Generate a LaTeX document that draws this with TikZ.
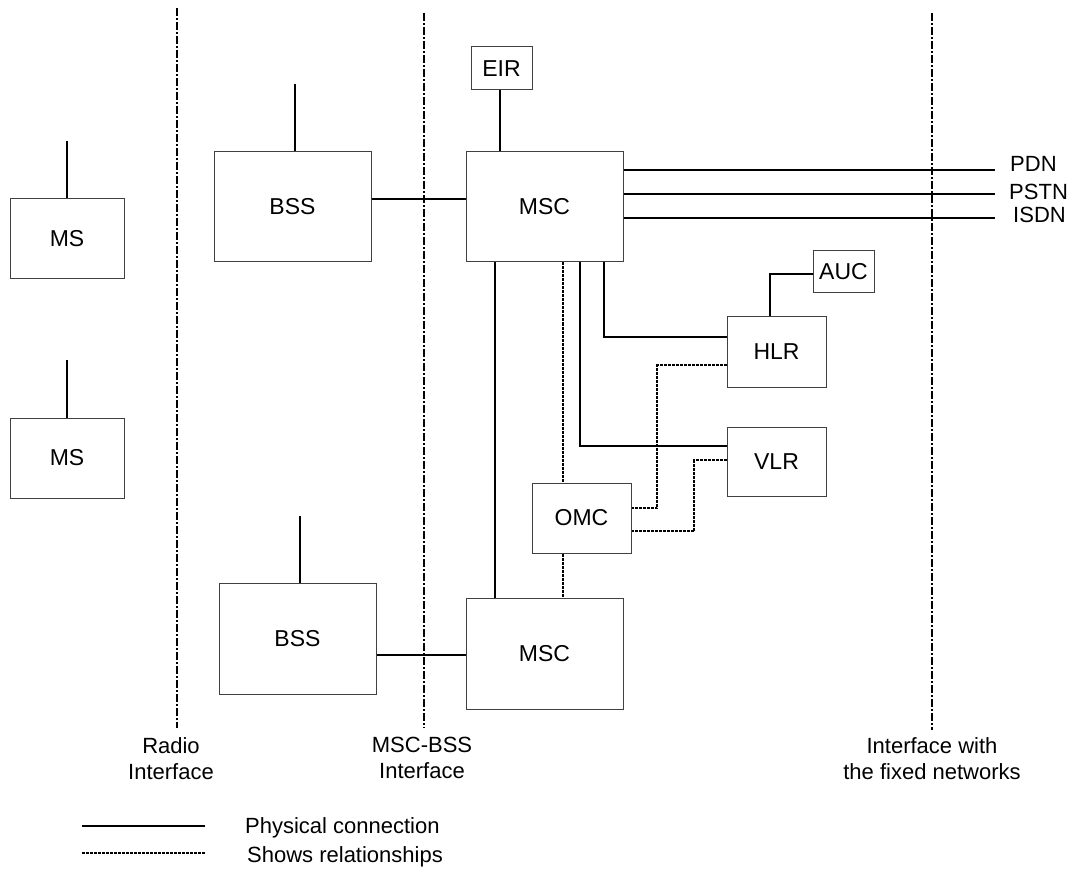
\documentclass[tikz,border=0pt]{standalone}
\usepackage{fontspec}
\setmainfont{Liberation Sans}
\begin{document}
\begin{tikzpicture}[x=1pt,y=-1pt,
  box/.style={draw=black!75,line width=1pt,inner sep=0pt,font=\fontsize{23}{27}\selectfont,fill=white},
  phys/.style={line width=2pt,black},
  rel/.style={line width=1.6pt,black,dash pattern=on 3pt off 1pt},
  ifline/.style={line width=2pt,black,dash pattern=on 8pt off 2pt on 2pt off 2pt},
  lbl/.style={inner sep=0pt,font=\fontsize{22}{26}\selectfont,align=center}]
\useasboundingbox (0,0) rectangle (1078,882);

% interface lines
\coordinate (r1) at (177,8); \coordinate (r2) at (177,728);
\coordinate (m1) at (424,13);  \coordinate (m2) at (424,728);
\coordinate (f1) at (932,13);  \coordinate (f2) at (932,730);
\draw[ifline] (r1) -- (r2);
\draw[ifline] (m1) -- (m2);
\draw[ifline] (f1) -- (f2);

% boxes
\node[box,minimum width=114pt,minimum height=80pt] (ms1) at (67,239) {MS};
\node[box,minimum width=114pt,minimum height=80pt] (ms2) at (67,458) {MS};
\node[box,minimum width=157pt,minimum height=110pt] (bss1) at (292.5,207) {BSS};
\node[box,minimum width=157pt,minimum height=111pt] (bss2) at (297.5,638.5) {BSS};
\node[box,minimum width=157pt,minimum height=110pt] (msc1) at (544.5,207) {MSC};
\node[box,minimum width=157pt,minimum height=111pt] (msc2) at (544.5,653.5) {MSC};
\node[box,minimum width=61pt,minimum height=43pt] (eir) at (501.5,68.5) {EIR};
\node[box,minimum width=61pt,minimum height=42pt] (auc) at (843.5,272) {AUC};
\node[box,minimum width=99pt,minimum height=70pt] (hlr) at (776.5,352) {HLR};
\node[box,minimum width=99pt,minimum height=69pt] (vlr) at (776.5,461.5) {VLR};
\node[box,minimum width=99pt,minimum height=70pt] (omc) at (581.5,518) {OMC};

% antennas
\coordinate (a1) at (67,141);
\coordinate (a2) at (67,360);
\coordinate (a3) at (295,84);
\coordinate (a4) at (300,516);
\draw[phys] (ms1.north) -- (a1);
\draw[phys] (ms2.north) -- (a2);
\draw[phys] (bss1.north -| a3) -- (a3);
\draw[phys] (bss2.north -| a4) -- (a4);

% physical connections
\draw[phys] (bss1.east |- 0,199) -- (msc1.west |- 0,199);
\draw[phys] (bss2.east |- 0,655) -- (msc2.west |- 0,655);
\draw[phys] (eir.south -| 500,0) -- (msc1.north -| 500,0);
\draw[phys] (495,0 |- msc1.south) -- (495,0 |- msc2.north);
\draw[phys] (604,0 |- msc1.south) |- (hlr.west |- 0,337);
\draw[phys] (580,0 |- msc1.south) |- (vlr.west |- 0,446);
\draw[phys] (auc.west |- 0,274) -| (770,0 |- hlr.north);

% fixed networks
\coordinate (pdn) at (995,170);
\coordinate (pstn) at (995,194);
\coordinate (isdn) at (995,218);
\draw[phys] (msc1.east |- pdn) -- (pdn);
\draw[phys] (msc1.east |- pstn) -- (pstn);
\draw[phys] (msc1.east |- isdn) -- (isdn);
\node[lbl,anchor=base west] (tpdn) at (1010,172) {PDN};
\node[lbl,anchor=base west] (tpstn) at (1009,200) {PSTN};
\node[lbl,anchor=base west] (tisdn) at (1013,223) {ISDN};

% relationships
\draw[rel] (563,0 |- msc1.south) -- (563,0 |- omc.north);
\draw[rel] (563,0 |- omc.south) -- (563,0 |- msc2.north);
\draw[rel] (hlr.west |- 0,365) -- (657,365) -- (657,508) -- (omc.east |- 0,508);
\draw[rel] (vlr.west |- 0,460) -- (694,460) -- (694,531) -- (omc.east |- 0,531);

% interface labels
\node[lbl,anchor=north] (lradio) at (171,737) {Radio\\Interface};
\node[lbl,anchor=north] (lmscbss) at (422,737) {MSC-BSS\\Interface};
\node[lbl,anchor=north] (lfixed) at (932,737) {Interface with\\the fixed networks};

% legend
\coordinate (lg1) at (82,826); \coordinate (lg2) at (205,826);
\coordinate (lg3) at (82,853); \coordinate (lg4) at (205,853);
\draw[phys] (lg1) -- (lg2);
\draw[rel,line width=1.2pt] (lg3) -- (lg4);
\node[lbl,anchor=base west] (lphys) at (245,833) {Physical connection};
\node[lbl,anchor=base west] (lrel) at (247,862) {Shows relationships};
\end{tikzpicture}
\end{document}
